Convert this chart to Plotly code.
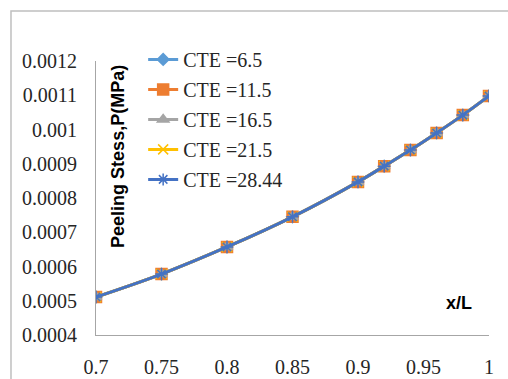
import plotly.graph_objects as go

x_vals = [0.7, 0.75, 0.8, 0.85, 0.9, 0.92, 0.94, 0.96, 0.98, 1.0]
y_cte_6_5 = [0.000511, 0.000578, 0.000657, 0.000745, 0.000847, 0.000893, 0.000940, 0.000990, 0.001042, 0.001098]
y_cte_11_5 = [0.000511, 0.000578, 0.000657, 0.000745, 0.000847, 0.000893, 0.000940, 0.000990, 0.001042, 0.001098]
y_cte_16_5 = [0.000511, 0.000578, 0.000657, 0.000745, 0.000847, 0.000893, 0.000940, 0.000990, 0.001042, 0.001098]
y_cte_21_5 = [0.000511, 0.000578, 0.000657, 0.000745, 0.000847, 0.000893, 0.000940, 0.000990, 0.001042, 0.001098]
y_cte_28_44 = [0.000511, 0.000578, 0.000657, 0.000745, 0.000847, 0.000893, 0.000940, 0.000990, 0.001042, 0.001098]

series_names = ["CTE =6.5", "CTE =11.5", "CTE =16.5", "CTE =21.5", "CTE =28.44"]
series_values = [y_cte_6_5, y_cte_11_5, y_cte_16_5, y_cte_21_5, y_cte_28_44]
series_colors = ["#5B9BD5", "#ED7D31", "#A5A5A5", "#FFC000", "#4472C4"]
series_symbols = ["diamond", "square", "triangle-up", "x-thin", "asterisk"]
series_sizes = [9, 11, 10, 10, 10]

x_ticks = [0.7, 0.75, 0.8, 0.85, 0.9, 0.95, 1.0]
x_tick_labels = ["0.7", "0.75", "0.8", "0.85", "0.9", "0.95", "1"]
y_ticks = [0.0004, 0.0005, 0.0006, 0.0007, 0.0008, 0.0009, 0.001, 0.0011, 0.0012]
y_tick_labels = ["0.0004", "0.0005", "0.0006", "0.0007", "0.0008", "0.0009", "0.001", "0.0011", "0.0012"]

fig = go.Figure()
for i, (name, ys, col, sym, sz) in enumerate(zip(series_names, series_values, series_colors, series_symbols, series_sizes)):
    fig.add_trace(go.Scatter(
        x=x_vals, y=ys, name=name, mode="lines+markers",
        line=dict(color=col, width=3, shape="spline"),
        marker=dict(symbol=sym, size=sz, color=col, line=dict(color=col, width=1.5)),
        legendgroup="g%d" % i,
    ))

serif = "Liberation Serif"
fig.update_layout(
    width=508, height=379,
    margin=dict(l=96, r=19, t=61, b=44),
    paper_bgcolor="white", plot_bgcolor="white",
    showlegend=True,
    legend=dict(x=0.12, y=1.077, xanchor="left", yanchor="top",
                font=dict(family=serif, size=20, color="#262626"),
                bgcolor="rgba(0,0,0,0)", tracegroupgap=1),
    xaxis=dict(range=[0.7, 1.0], tickvals=x_ticks, ticktext=x_tick_labels, automargin=False,
               showgrid=False, zeroline=False, showline=True, linecolor="#A6A6A6", linewidth=1,
               ticks="outside", ticklen=14, tickcolor="rgba(0,0,0,0)",
               tickfont=dict(family=serif, size=20, color="#262626")),
    yaxis=dict(range=[0.0004, 0.0012], tickvals=y_ticks, ticktext=y_tick_labels, automargin=False,
               showgrid=False, zeroline=False, showline=True, linecolor="#A6A6A6", linewidth=1,
               ticks="outside", ticklen=14, tickcolor="rgba(0,0,0,0)",
               tickfont=dict(family=serif, size=20, color="#262626")),
    shapes=[dict(type="rect", xref="paper", yref="paper",
                 x0=-0.2163, x1=1.08, y0=-0.2, y1=1.1825,
                 line=dict(color="#BFBFBF", width=1.5), fillcolor="rgba(0,0,0,0)", layer="below")],
    annotations=[
        dict(text="<b>Peeling Stess,P(MPa)</b>", xref="paper", yref="paper", x=0.056, y=0.65,
             xanchor="center", yanchor="middle",
             textangle=-90, showarrow=False, font=dict(family="Liberation Sans", size=18, color="#000000")),
        dict(text="<b>x/L</b>", xref="paper", yref="paper", x=0.924, y=0.117,
             xanchor="center", yanchor="middle",
             showarrow=False, font=dict(family="Liberation Sans", size=18, color="#000000")),
    ],
)
fig.write_html("out.html")
